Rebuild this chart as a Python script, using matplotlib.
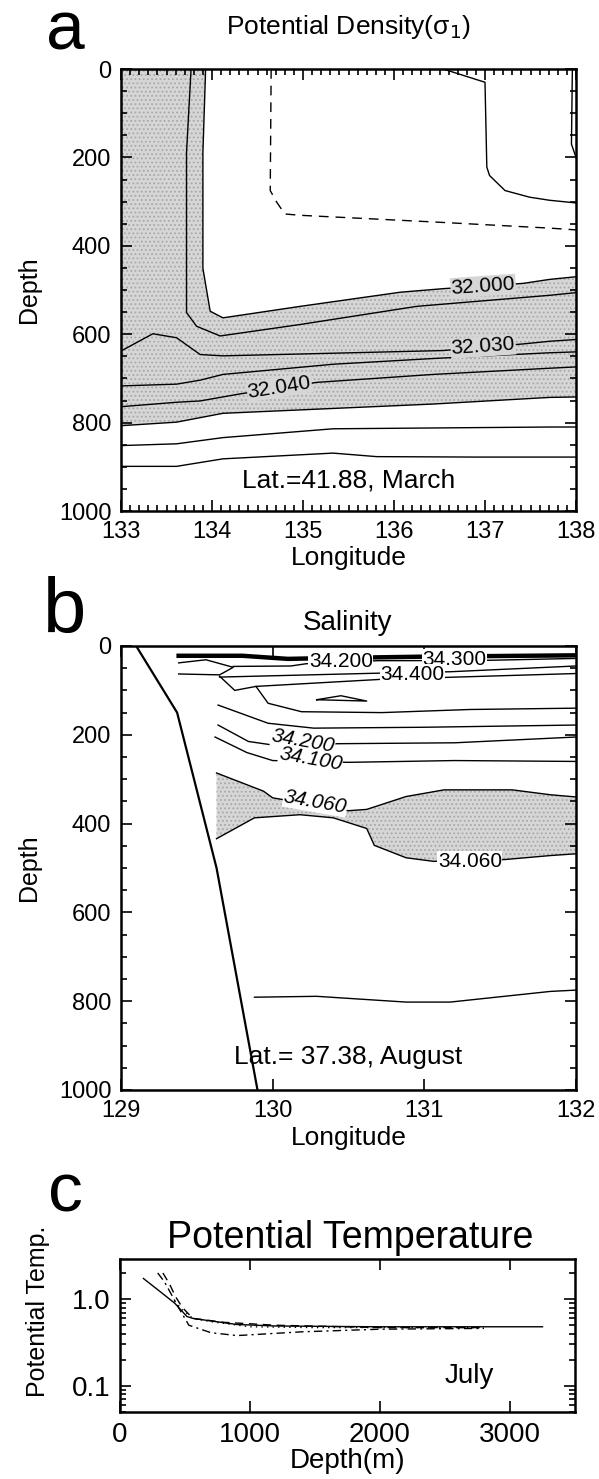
import matplotlib
matplotlib.use('Agg')
import matplotlib.pyplot as plt
import numpy as np
from matplotlib.ticker import MultipleLocator, LogLocator, NullFormatter

plt.rcParams['font.family'] = ['Liberation Sans', 'DejaVu Sans']
plt.rcParams['hatch.linewidth'] = 0.8

# ---- panel a: potential density section, Lat 41.88 March (lon, depth) ----
a_lineB_lon = [133.93, 133.90, 133.90, 133.98, 134.12, 134.97, 136.07, 136.54, 137.42, 137.71, 138.0]
a_lineB_dep = [0, 190, 451, 548, 563, 537, 505, 497, 485, 476, 470]
a_lineA_lon = [133.77, 133.72, 133.72, 133.83, 134.09, 134.97, 136.25, 137.71, 138.0]
a_lineA_dep = [0, 189, 551, 582, 604, 578, 537, 512, 506]
a_l030_lon = [133.0, 133.35, 133.61, 133.87, 134.12, 136.54, 137.42, 137.71, 138.0]
a_l030_dep = [638, 599, 608, 646, 649, 637, 622, 616, 612]
a_l035_lon = [133.0, 133.61, 133.87, 134.12, 135.33, 136.43, 137.71, 138.0]
a_l035_dep = [717, 713, 704, 691, 668, 655, 642, 640]
a_l040_lon = [133.0, 133.61, 133.87, 134.31, 135.15, 136.43, 137.71, 138.0]
a_l040_dep = [764, 754, 751, 735, 709, 691, 677, 674]
a_l045_lon = [133.0, 133.61, 134.12, 136.43, 137.71, 138.0]
a_l045_dep = [807, 799, 779, 758, 743, 742]
a_l050_lon = [133.0, 133.61, 134.12, 135.33, 137.71, 138.0]
a_l050_dep = [852, 848, 834, 814, 810, 810]
a_l055_lon = [133.0, 133.61, 134.12, 135.33, 135.81, 136.91, 137.71, 138.0]
a_l055_dep = [899, 899, 882, 869, 877, 878, 878, 878]
a_dash_lon = [134.65, 134.64, 134.71, 134.80, 134.97, 136.43, 137.71, 138.0]
a_dash_dep = [0, 275, 301, 328, 331, 346, 360, 364]
a_right_lon = [136.54, 137.0, 137.02, 137.05, 137.22, 137.49, 137.71, 138.0]
a_right_dep = [0, 30, 222, 241, 275, 290, 297, 303]
a_edge_lon = [137.96, 137.95, 138.0]
a_edge_dep = [0, 170, 200]
a_labels = ['32.000', '32.030', '32.040']
a_label_lon = [136.98, 136.98, 134.74]
a_label_dep = [491, 628, 720]
a_label_rot = [4, 4, 9]

# ---- panel b: salinity section, Lat 37.38 August ----
b_slope_lon = [129.10, 129.37, 129.63, 129.90]
b_slope_dep = [0, 150, 500, 1000]
b_top_lon = [129.38, 129.8, 130.1, 130.4, 131.0, 132.0]
b_top_dep = [22, 22, 29, 27, 24, 21]
b_wedge_lon = [129.38, 129.56, 129.74, 129.65, 129.38]
b_wedge_dep = [38, 31, 48, 65, 63]
b_l200a_lon = [129.74, 130.12, 130.22, 130.7, 130.9, 131.45, 132.0]
b_l200a_dep = [46, 45, 40, 33, 33, 32, 28]
b_l400_lon = [129.65, 130.72, 131.17, 132.0]
b_l400_dep = [70, 61, 58, 45]
b_inner_lon = [129.65, 129.75, 129.89, 129.97, 130.19, 130.72, 131.3, 132.0]
b_inner_dep = [68, 100, 91, 129, 148, 150, 143, 140]
b_inner_top_lon = [129.89, 130.72, 132.0]
b_inner_top_dep = [91, 75, 62]
b_tri_lon = [130.29, 130.45, 130.62, 130.29]
b_tri_dep = [121, 112, 124, 121]
b_l300b_lon = [129.64, 129.97, 130.27, 131.0, 132.0]
b_l300b_dep = [133, 174, 185, 183, 178]
b_l200b_lon = [129.64, 129.84, 129.98, 130.45, 131.2, 132.0]
b_l200b_dep = [178, 215, 222, 220, 218, 205]
b_l100_lon = [129.62, 129.83, 130.0, 130.5, 131.2, 132.0]
b_l100_dep = [205, 240, 258, 262, 258, 260]
b_l060u_lon = [129.63, 129.94, 130.0, 130.5, 130.62, 130.88, 131.13, 131.58, 131.83, 132.0]
b_l060u_dep = [286, 327, 342, 371, 368, 339, 324, 324, 335, 340]
b_l060l_lon = [129.63, 129.88, 130.18, 130.4, 130.62, 130.67, 130.88, 131.06, 131.53, 131.83, 132.0]
b_l060l_dep = [434, 387, 380, 387, 411, 449, 477, 485, 481, 472, 468]
b_l800_lon = [129.88, 130.29, 130.88, 131.17, 131.83, 132.0]
b_l800_dep = [791, 789, 802, 802, 778, 775]
b_labels = ['34.200', '34.300', '34.400', '34.200', '34.100', '34.060', '34.060']
b_label_lon = [130.45, 131.2, 130.92, 130.2, 130.25, 130.28, 131.3]
b_label_dep = [34, 30, 64, 215, 255, 352, 485]
b_label_rot = [0, 0, 0, -10, -10, -10, 0]
b_label_ital = [False, False, False, True, True, True, False]

# ---- panel c: potential temperature profiles, July ----
c_dep1 = [180, 300, 420, 515, 560, 700, 900, 1200, 2000, 3250]
c_tmp1 = [1.73, 1.25, 0.9, 0.63, 0.6, 0.56, 0.51, 0.49, 0.48, 0.48]
c_dep2 = [290, 340, 400, 450, 530, 700, 900, 1400, 2000, 2800]
c_tmp2 = [2.0, 1.6, 1.1, 0.8, 0.5, 0.41, 0.38, 0.42, 0.45, 0.46]
c_dep3 = [330, 380, 430, 480, 560, 800, 1200, 2000, 2800]
c_tmp3 = [2.0, 1.5, 1.05, 0.8, 0.6, 0.54, 0.5, 0.47, 0.47]
c_dep4 = [420, 480, 560, 700, 1000, 1500, 2000, 2800]
c_tmp4 = [0.95, 0.75, 0.6, 0.55, 0.48, 0.47, 0.47, 0.47]

W, H = 599, 1479
fig = plt.figure(figsize=(W / 100, H / 100), dpi=100)

def box(l, t, r, b):
    return [l / W, 1 - b / H, (r - l) / W, (b - t) / H]

def style(ax, ts):
    ax.tick_params(direction='in', which='both', top=True, right=True,
                   labelsize=ts, width=1.2, pad=7, colors='black')
    ax.tick_params(which='major', length=8)
    ax.tick_params(which='minor', length=4)
    for s in ax.spines.values():
        s.set_linewidth(1.8)

LW = 1.0
GREY = '#d6d6d6'
HATCH = dict(hatch='....', edgecolor='#a8a8a8', lw=0)

# panel a
ax = fig.add_axes(box(121, 69, 576, 511))
shade_lon = [133.0] + a_lineB_lon + [138.0] + a_l045_lon[::-1]
shade_dep = [0] + a_lineB_dep + [742] + a_l045_dep[::-1]
ax.fill(shade_lon, shade_dep, facecolor=GREY, **HATCH)
for lo, de in [(a_lineB_lon, a_lineB_dep), (a_lineA_lon, a_lineA_dep),
               (a_l030_lon, a_l030_dep), (a_l035_lon, a_l035_dep),
               (a_l040_lon, a_l040_dep), (a_l045_lon, a_l045_dep),
               (a_l050_lon, a_l050_dep), (a_l055_lon, a_l055_dep),
               (a_right_lon, a_right_dep), (a_edge_lon, a_edge_dep)]:
    ax.plot(lo, de, color='black', lw=LW)
ax.plot(a_dash_lon, a_dash_dep, color='black', lw=LW, ls=(0, (7, 5)))
for t, x, y, r in zip(a_labels, a_label_lon, a_label_dep, a_label_rot):
    ax.text(x, y, t, fontsize=15, rotation=r, ha='center', va='center',
            bbox=dict(facecolor=GREY, edgecolor='none', pad=0.5))
ax.text(135.5, 930, 'Lat.=41.88, March', fontsize=19, ha='center', va='center')
ax.set_xlim(133, 138)
ax.set_ylim(1000, 0)
ax.xaxis.set_major_locator(MultipleLocator(1))
ax.xaxis.set_minor_locator(MultipleLocator(0.1))
ax.yaxis.set_major_locator(MultipleLocator(200))
ax.yaxis.set_minor_locator(MultipleLocator(50))
style(ax, 17)
ax.set_xlabel('Longitude', fontsize=19)
ax.xaxis.set_label_coords(0.5, (511 - 546) / 442)
ax.set_ylabel('Depth', fontsize=18)
ax.yaxis.set_label_coords((41 - 121) / 455, 0.5)
fig.text(348 / W, 1 - 27 / H, 'Potential Density(σ$_1$)', fontsize=19, ha='center', va='center')
fig.text(65 / W, 1 - 50 / H, 'a', fontsize=50, ha='center', va='baseline')

# panel b
bx = fig.add_axes(box(121, 646, 576, 1090))
bx.fill(b_l060u_lon + b_l060l_lon[::-1], b_l060u_dep + b_l060l_dep[::-1],
        facecolor=GREY, **HATCH)
bx.plot(b_slope_lon, b_slope_dep, color='black', lw=1.6)
bx.plot(b_top_lon, b_top_dep, color='black', lw=3.2)
for lo, de in [(b_wedge_lon, b_wedge_dep), (b_l200a_lon, b_l200a_dep),
               (b_l400_lon, b_l400_dep), (b_inner_lon, b_inner_dep),
               (b_inner_top_lon, b_inner_top_dep), (b_tri_lon, b_tri_dep),
               (b_l300b_lon, b_l300b_dep), (b_l200b_lon, b_l200b_dep),
               (b_l100_lon, b_l100_dep), (b_l060u_lon, b_l060u_dep),
               (b_l060l_lon, b_l060l_dep), (b_l800_lon, b_l800_dep)]:
    bx.plot(lo, de, color='black', lw=LW)
for t, x, y, r, it in zip(b_labels, b_label_lon, b_label_dep, b_label_rot, b_label_ital):
    bx.text(x, y, t, fontsize=15, rotation=r, ha='center', va='center',
            style='italic' if it else 'normal',
            bbox=dict(facecolor='white', edgecolor='none', pad=0.3))
bx.text(130.5, 926, 'Lat.= 37.38, August', fontsize=19, ha='center', va='center')
bx.set_xlim(129, 132)
bx.set_ylim(1000, 0)
bx.xaxis.set_major_locator(MultipleLocator(1))
bx.yaxis.set_major_locator(MultipleLocator(200))
bx.yaxis.set_minor_locator(MultipleLocator(50))
style(bx, 17)
bx.set_xlabel('Longitude', fontsize=19)
bx.xaxis.set_label_coords(0.5, (1090 - 1126) / 444)
bx.set_ylabel('Depth', fontsize=18)
bx.yaxis.set_label_coords((41 - 121) / 455, 0.5)
fig.text(348 / W, 1 - 623 / H, 'Salinity', fontsize=20, ha='center', va='center')
fig.text(65 / W, 1 - 633 / H, 'b', fontsize=56, ha='center', va='baseline')

# panel c
cx = fig.add_axes(box(120, 1259, 575, 1412))
cx.plot(c_dep1, c_tmp1, color='black', lw=LW)
cx.plot(c_dep2, c_tmp2, color='black', lw=LW, ls=(0, (6, 3, 1.5, 3)))
cx.plot(c_dep3, c_tmp3, color='black', lw=LW, ls=(0, (6, 4)))
cx.plot(c_dep4, c_tmp4, color='black', lw=LW, ls=(0, (1, 3)))
cx.text(2685, 0.13, 'July', fontsize=20, ha='center', va='center')
cx.set_yscale('log')
cx.set_xlim(0, 3500)
cx.set_ylim(0.05, 2.9)
cx.set_yticks([0.1, 1.0])
cx.set_yticklabels(['0.1', '1.0'])
cx.yaxis.set_minor_locator(LogLocator(base=10, subs=np.arange(2, 10)))
cx.yaxis.set_minor_formatter(NullFormatter())
cx.xaxis.set_major_locator(MultipleLocator(1000))
style(cx, 20)
cx.set_xlabel('Depth(m)', fontsize=20)
cx.xaxis.set_label_coords(0.5, (1412 - 1448) / 153)
cx.set_ylabel('Potential Temp.', fontsize=18)
cx.yaxis.set_label_coords((50 - 120) / 455, 0.66)
fig.text(350 / W, 1 - 1238 / H, 'Potential Temperature', fontsize=27, ha='center', va='center')
fig.text(65 / W, 1 - 1211 / H, 'c', fontsize=50, ha='center', va='baseline')

fig.savefig('out.png', dpi=100)
